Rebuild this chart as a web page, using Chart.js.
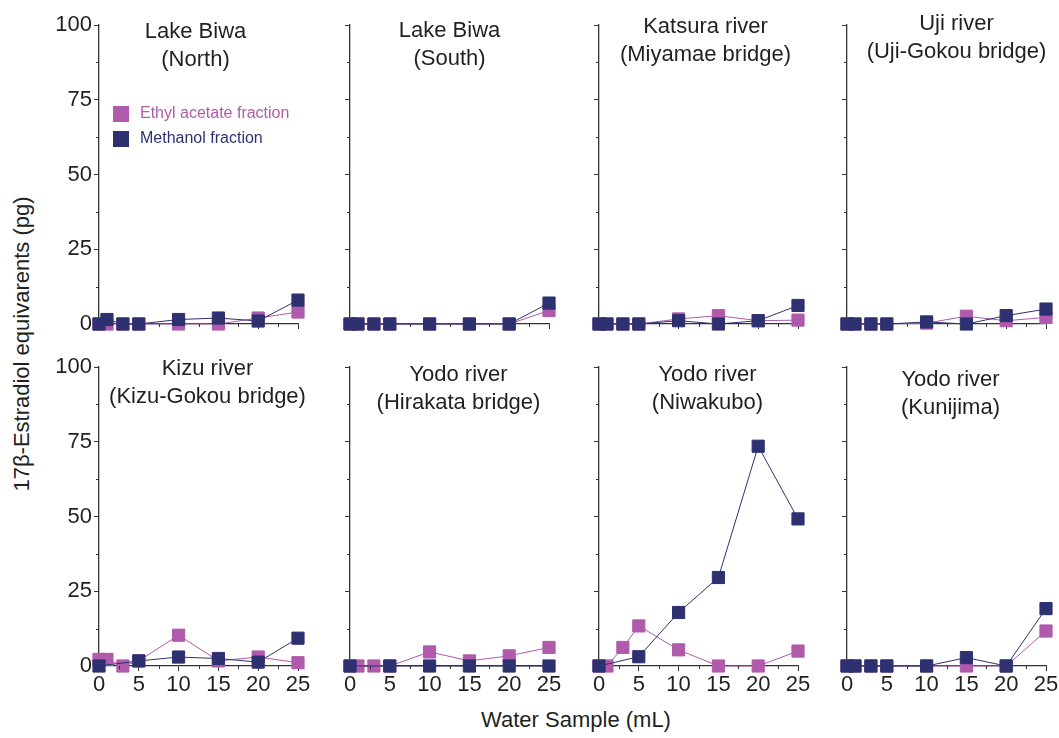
<!DOCTYPE html>
<html>
<head>
<meta charset="utf-8">
<script src="https://cdn.jsdelivr.net/npm/chart.js@4.4.1/dist/chart.umd.min.js"></script>
<style>
    html, body { margin: 0; padding: 0; background: #fff; }
    #fig { position: relative; width: 1059px; height: 738px; overflow: hidden;
           font-family: "Liberation Sans", Arial, sans-serif; color: #231f20; }
    #fig canvas { position: absolute; }
    #yTitle { position: absolute; left: 22px; top: 344px; white-space: nowrap; font-size: 22px;
              transform: translate(-50%, -50%) rotate(-90deg); }
    #xTitle { position: absolute; left: 576px; top: 720px; white-space: nowrap; font-size: 22px;
              transform: translate(-50%, -50%); }
</style>
</head>
<body>
<div id="fig">
    <div id="yTitle">17β-Estradiol equivarents (pg)</div>
    <div id="xTitle">Water Sample (mL)</div>
</div>
<script>
// Data
const sampleVolumes = [0, 1, 3, 5, 10, 15, 20, 25];
const yTicks = [0, 25, 50, 75, 100];
const xTicks = [0, 5, 10, 15, 20, 25];
const seriesLabels = ['Ethyl acetate fraction', 'Methanol fraction'];

const biwaNorthEthyl = [0, 0, 0, 0, 0, 0, 2, 4];
const biwaNorthMethanol = [0, 1.5, 0, 0, 1.5, 2, 1, 8];
const biwaSouthEthyl = [0, 0, 0, 0, 0, 0, 0, 4.5];
const biwaSouthMethanol = [0, 0, 0, 0, 0, 0, 0, 7];
const katsuraEthyl = [0, 0, 0, 0, 1.7, 2.8, 1.1, 1.3];
const katsuraMethanol = [0, 0, 0, 0, 1.1, 0, 1.1, 6.2];
const ujiEthyl = [0, 0, 0, 0, 0.3, 2.6, 1.1, 2.2];
const ujiMethanol = [0, 0, 0, 0, 0.7, 0, 2.8, 5];
const kizuEthyl = [2.2, 2.2, 0, 1.7, 10.3, 1.7, 3, 1.1];
const kizuMethanol = [0, null, null, 1.7, 3, 2.5, 1.3, 9.3];
const hirakataEthyl = [0, 0, 0, 0, 4.7, 1.7, 3.4, 6.2];
const hirakataMethanol = [0, null, null, 0, 0, 0, 0, 0];
const niwakuboEthyl = [0, 0, 6.2, 13.4, 5.4, 0, 0, 5];
const niwakuboMethanol = [0, null, null, 3.1, 17.9, 29.6, 73.5, 49.2];
const kunijimaEthyl = [0, 0, 0, 0, 0, 0, 0, 11.7];
const kunijimaMethanol = [0, 0, 0, 0, 0, 2.8, 0, 19.2];

const sites = [
    { title: ['Lake Biwa', '(North)'], ethyl: biwaNorthEthyl, methanol: biwaNorthMethanol },
    { title: ['Lake Biwa', '(South)'], ethyl: biwaSouthEthyl, methanol: biwaSouthMethanol },
    { title: ['Katsura river', '(Miyamae bridge)'], ethyl: katsuraEthyl, methanol: katsuraMethanol },
    { title: ['Uji river', '(Uji-Gokou bridge)'], ethyl: ujiEthyl, methanol: ujiMethanol },
    { title: ['Kizu river', '(Kizu-Gokou bridge)'], ethyl: kizuEthyl, methanol: kizuMethanol },
    { title: ['Yodo river', '(Hirakata bridge)'], ethyl: hirakataEthyl, methanol: hirakataMethanol },
    { title: ['Yodo river', '(Niwakubo)'], ethyl: niwakuboEthyl, methanol: niwakuboMethanol },
    { title: ['Yodo river', '(Kunijima)'], ethyl: kunijimaEthyl, methanol: kunijimaMethanol }
];

// Layout / style
const FONT = '"Liberation Sans", Arial, sans-serif';
const INK = '#231f20';
const AXIS = '#333333';
const PINK = '#b05aac';
const NAVY = '#2e3170';
const colLefts = [99, 350, 599, 847];
const rowTops = [25, 367];
const plotW = 199, plotH = 299;
const PAD = { left: 60, top: 22, right: 18, bottom: 42 };
const titleShift = [[-3, 7], [0, 6], [7, 2], [10, -1], [9, 2], [9, 8], [9, 8], [4, 13]];

const toPoints = arr => sampleVolumes.map((x, i) => ({ x: x, y: arr[i] }));

// Minor ticks, panel titles and legend
const panelDecor = {
    id: 'panelDecor',
    afterDraw(chart, args, opts) {
        const ctx = chart.ctx, a = chart.chartArea;
        const xs = chart.scales.x, ys = chart.scales.y;
        ctx.save();
        ctx.strokeStyle = AXIS;
        ctx.lineWidth = 1;
        ctx.beginPath();
        for (let v = 12.5; v < 100; v += 25) {
            const py = Math.round(ys.getPixelForValue(v)) + 0.5;
            ctx.moveTo(a.left, py); ctx.lineTo(a.left - 3, py);
        }
        for (let v = 2.5; v < 25; v += 5) {
            const px = Math.round(xs.getPixelForValue(v)) + 0.5;
            ctx.moveTo(px, a.bottom); ctx.lineTo(px, a.bottom + 3);
        }
        ctx.stroke();

        ctx.fillStyle = INK;
        ctx.font = '22px ' + FONT;
        ctx.textAlign = 'center';
        ctx.textBaseline = 'middle';
        const cx = (a.left + a.right) / 2 + opts.shift[0];
        opts.title.forEach((line, i) => ctx.fillText(line, cx, a.top + opts.shift[1] + i * 28));

        if (opts.legend) {
            ctx.font = '16px ' + FONT;
            ctx.textAlign = 'left';
            chart.data.datasets.forEach((ds, i) => {
                const y = a.top + 89 + i * 25;
                ctx.fillStyle = ds.backgroundColor;
                ctx.fillRect(a.left + 14, y - 8, 16, 16);
                ctx.fillText(ds.label, a.left + 41, y);
            });
        }
        ctx.restore();
    }
};

function makePanel(site, i) {
    const col = i % 4, row = Math.floor(i / 4);
    const canvas = document.createElement('canvas');
    canvas.width = plotW + PAD.left + PAD.right;
    canvas.height = plotH + PAD.top + PAD.bottom;
    canvas.style.left = (colLefts[col] - PAD.left) + 'px';
    canvas.style.top = (rowTops[row] - PAD.top) + 'px';
    document.getElementById('fig').appendChild(canvas);

    // lower "order" is drawn on top, so methanol sits above ethyl acetate
    const lineSet = (label, values, color, order) => ({
        label: label,
        data: toPoints(values),
        order: order,
        borderColor: color,
        backgroundColor: color,
        borderWidth: 1,
        pointStyle: 'rect',
        pointRadius: 8.6,
        pointBorderWidth: 1,
        pointBorderColor: color,
        spanGaps: true,
        clip: false
    });

    new Chart(canvas.getContext('2d'), {
        type: 'line',
        data: {
            datasets: [
                lineSet(seriesLabels[0], site.ethyl, PINK, 2),
                lineSet(seriesLabels[1], site.methanol, NAVY, 1)
            ]
        },
        options: {
            responsive: false,
            animation: false,
            devicePixelRatio: 1,
            layout: { padding: { left: 0, top: PAD.top, right: PAD.right, bottom: 0 } },
            plugins: {
                legend: { display: false },
                tooltip: { enabled: false },
                panelDecor: { title: site.title, shift: titleShift[i], legend: i === 0 }
            },
            scales: {
                x: {
                    type: 'linear', min: 0, max: 25,
                    afterBuildTicks: s => { s.ticks = xTicks.map(v => ({ value: v })); },
                    afterFit: s => { s.height = PAD.bottom; },
                    grid: { drawOnChartArea: false, drawTicks: true, tickLength: 5, color: AXIS },
                    border: { display: true, color: AXIS, width: 1.3 },
                    ticks: { display: row === 1, autoSkip: false, maxRotation: 0, padding: 1,
                             color: INK, font: { family: FONT, size: 22 } }
                },
                y: {
                    type: 'linear', min: 0, max: 100,
                    afterBuildTicks: s => { s.ticks = yTicks.map(v => ({ value: v })); },
                    afterFit: s => { s.width = PAD.left; },
                    grid: { drawOnChartArea: false, drawTicks: true, tickLength: 5, color: AXIS },
                    border: { display: true, color: AXIS, width: 1.3 },
                    ticks: { display: col === 0, padding: 2, color: INK,
                             font: { family: FONT, size: 22 } }
                }
            }
        },
        plugins: [panelDecor]
    });
}

sites.forEach(makePanel);
</script>
</body>
</html>
